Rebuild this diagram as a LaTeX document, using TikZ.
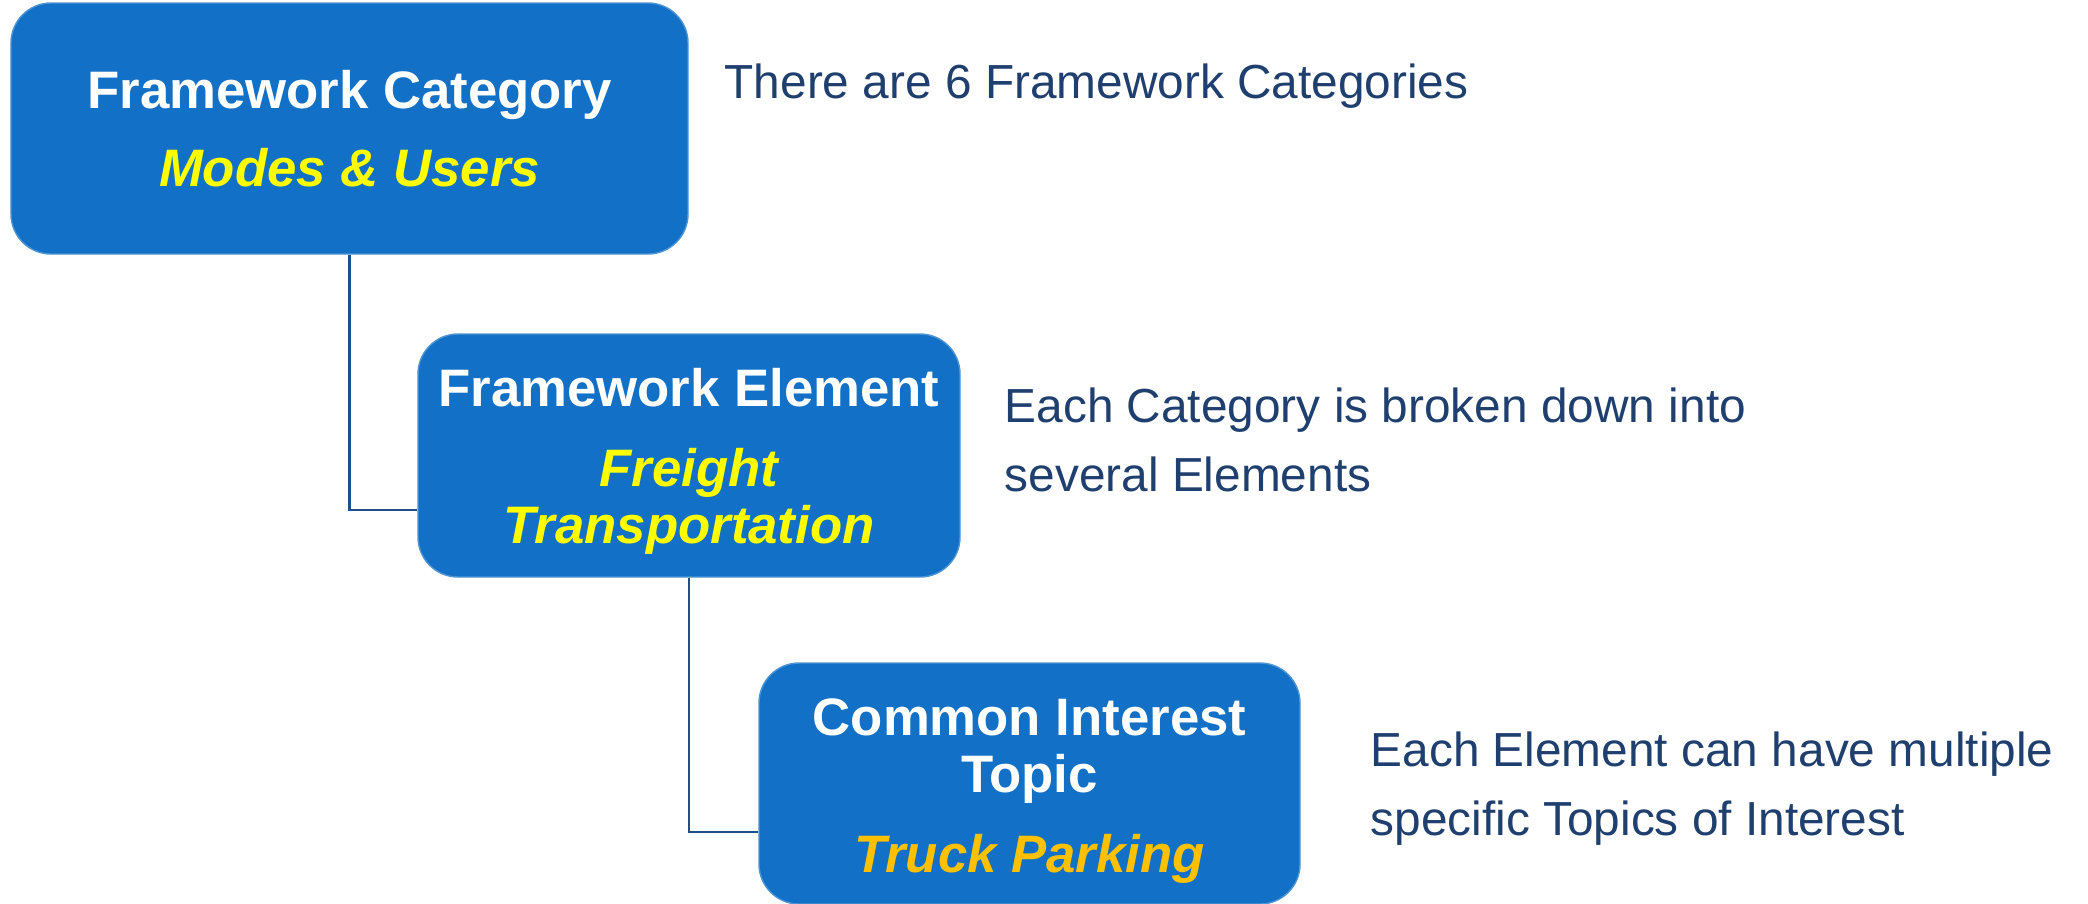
\documentclass[tikz,border=0pt]{standalone}
\usepackage{fontspec}
\setmainfont{Liberation Sans}
\definecolor{boxblue}{HTML}{1270C6}
\definecolor{linkblue}{HTML}{1F4E8C}
\definecolor{notenavy}{HTML}{1F3F6E}
\definecolor{tagyellow}{HTML}{FFFF00}
\definecolor{taggold}{HTML}{FFC000}
\begin{document}
\begin{tikzpicture}[
   box/.style  = {fill=boxblue, draw=boxblue!75!white, line width=0.4pt,
                  rounded corners=0.4cm, align=center, text=white, inner sep=0pt,
                  font=\fontsize{15}{16.2}\selectfont\bfseries},
   note/.style = {anchor=west, align=left, inner sep=0pt, text=notenavy,
                  font=\fontsize{13.6}{19.6}\selectfont},
   link/.style = {draw=linkblue, line width=0.7pt}]
   \useasboundingbox (0,0) rectangle (20.88,-9.03);
   % the three levels
   \node[box, minimum width=6.77cm, minimum height=2.51cm] (category) at (3.495,-1.285)
      {Framework Category\\[0.21cm]\textcolor{tagyellow}{\itshape Modes \& Users}};
   \node[box, minimum width=5.42cm, minimum height=2.43cm] (element) at (6.89,-4.555)
      {\rule{0pt}{0.5cm}Framework Element\\[0.23cm]\textcolor{tagyellow}{\itshape Freight}\\\textcolor{tagyellow}{\itshape Transportation}};
   \node[box, minimum width=5.41cm, minimum height=2.41cm] (topic) at (10.295,-7.835)
      {\rule{0pt}{0.52cm}Common Interest\\Topic\\[0.23cm]\textcolor{taggold}{\itshape Truck Parking}};
   % connectors
   \draw[link] (category.south) |- ([yshift=-0.545cm]element.west);
   \draw[link] (element.south) |- ([yshift=-0.485cm]topic.west);
   % notes
   \node[note] (catnote) at (7.24,-0.86) {There are 6 Framework Categories};
   \node[note] (elemnote) at (10.04,-4.40) {Each Category is broken down into\\several Elements};
   \node[note] (topicnote) at (13.70,-7.89) {Each Element can have multiple\\specific Topics of Interest};
\end{tikzpicture}
\end{document}
